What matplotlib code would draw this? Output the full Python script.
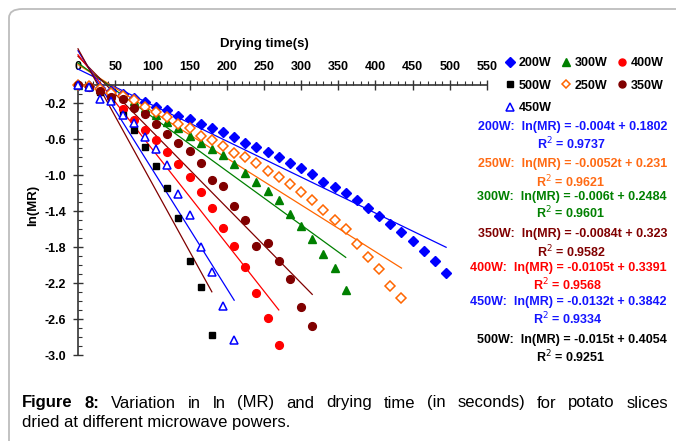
import numpy as np
import matplotlib
matplotlib.use("Agg")
import matplotlib.pyplot as plt
from matplotlib.patches import FancyBboxPatch

plt.rcParams['font.family'] = ['Liberation Sans', 'DejaVu Sans']

# ---------------- data ----------------
powers = ["200W", "300W", "400W", "500W", "250W", "350W", "450W"]
step = 15
ln200 = [0, -0.01, -0.03, -0.06, -0.10, -0.14, -0.19, -0.24, -0.28, -0.34, -0.37, -0.43,
         -0.48, -0.52, -0.57, -0.64, -0.69, -0.74, -0.80, -0.86, -0.92, -0.99, -1.07, -1.13,
         -1.20, -1.28, -1.36, -1.45, -1.54, -1.63, -1.73, -1.84, -1.95, -2.08]
ln250 = [0, -0.01, -0.04, -0.09, -0.12, -0.16, -0.24, -0.30, -0.35, -0.43, -0.48, -0.56,
         -0.61, -0.67, -0.75, -0.80, -0.86, -0.95, -1.02, -1.10, -1.19, -1.28, -1.39, -1.50,
         -1.60, -1.76, -1.91, -2.04, -2.23, -2.36]
ln300 = [0, -0.01, -0.04, -0.07, -0.11, -0.18, -0.25, -0.33, -0.41, -0.48, -0.56, -0.64,
         -0.71, -0.78, -0.87, -0.97, -1.08, -1.18, -1.27, -1.43, -1.56, -1.71, -1.87, -2.03,
         -2.27]
ln350 = [0, -0.02, -0.06, -0.13, -0.15, -0.25, -0.32, -0.43, -0.54, -0.64, -0.73, -0.86,
         -1.05, -1.12, -1.34, -1.50, -1.79, -1.75, -1.95, -2.15, -2.46, -2.67]
ln400 = [0, -0.02, -0.06, -0.13, -0.26, -0.39, -0.50, -0.61, -0.74, -0.87, -1.02, -1.19,
         -1.36, -1.59, -1.79, -2.02, -2.31, -2.59, -2.89]
ln450 = [0, -0.02, -0.15, -0.17, -0.33, -0.42, -0.57, -0.71, -0.89, -1.21, -1.44, -1.80,
         -2.07, -2.45, -2.83]
ln500 = [0, -0.02, -0.08, -0.16, -0.33, -0.50, -0.69, -0.90, -1.14, -1.47, -1.95, -2.24,
         -2.77]

series = {"200W": ln200, "250W": ln250, "300W": ln300, "350W": ln350,
          "400W": ln400, "450W": ln450, "500W": ln500}

slopes = {"200W": -0.004, "250W": -0.0052, "300W": -0.006, "350W": -0.0084,
          "400W": -0.0105, "450W": -0.0132, "500W": -0.015}
intercepts = {"200W": 0.1802, "250W": 0.231, "300W": 0.2484, "350W": 0.323,
              "400W": 0.3391, "450W": 0.3842, "500W": 0.4054}
r2 = {"200W": "0.9737", "250W": "0.9621", "300W": "0.9601", "350W": "0.9582",
      "400W": "0.9568", "450W": "0.9334", "500W": "0.9251"}
eq_text = {"200W": "200W:  ln(MR) = -0.004t + 0.1802",
           "250W": "250W:  ln(MR) = -0.0052t + 0.231",
           "300W": "300W:  ln(MR) = -0.006t + 0.2484",
           "350W": "350W:  ln(MR) = -0.0084t + 0.323",
           "400W": "400W:  ln(MR) = -0.0105t + 0.3391",
           "450W": "450W:  ln(MR) = -0.0132t + 0.3842",
           "500W": "500W:  ln(MR) = -0.015t + 0.4054"}

caption_bold = "Figure 8:"
caption_line1 = "Variation in ln (MR) and drying time (in seconds) for potato slices"
caption_line2 = "dried at different microwave powers."

# ---------------- styles ----------------
BLUE = '#0000FF'
ORANGE = '#FF6600'
GREEN = '#008000'
MAROON = '#800000'
RED = '#FF0000'
BLACK = '#000000'
marker_style = {
    "200W": dict(marker='D', color=BLUE, mfc=BLUE, mec=BLUE, ms=5.2),
    "300W": dict(marker='^', color=GREEN, mfc=GREEN, mec=GREEN, ms=6.3),
    "400W": dict(marker='o', color=RED, mfc=RED, mec=RED, ms=5.6),
    "500W": dict(marker='s', color=BLACK, mfc=BLACK, mec=BLACK, ms=5.0),
    "250W": dict(marker='D', color=ORANGE, mfc='white', mec=ORANGE, ms=4.6, mew=1.1),
    "350W": dict(marker='o', color=MAROON, mfc=MAROON, mec=MAROON, ms=5.6),
    "450W": dict(marker='^', color=BLUE, mfc='white', mec=BLUE, ms=6.3, mew=1.1),
}
line_color = {"200W": BLUE, "250W": ORANGE, "300W": GREEN, "350W": MAROON,
              "400W": RED, "450W": BLUE, "500W": MAROON}
text_color = {"200W": '#1414FF', "250W": '#FF6A13', "300W": GREEN, "350W": MAROON,
              "400W": RED, "450W": '#1414FF', "500W": BLACK}

W, H = 676, 441
fig = plt.figure(figsize=(W / 100, H / 100), dpi=100)

# border box (rounded top-left corner)
box = FancyBboxPatch((9 / W, -0.2), 1.2, 1 - 9 / H + 0.2,
                     boxstyle="round,pad=0,rounding_size=0.02",
                     transform=fig.transFigure, fill=False,
                     edgecolor='#BDBDBD', linewidth=1.3)
fig.patches.append(box)

ax = fig.add_axes([78 / W, 1 - 355.3 / H, (487 - 78) / W, (355.3 - 85.3) / H])
ax.set_xlim(0, 550)
ax.set_ylim(-3.0, 0)

# trend lines
for p in ["200W", "250W", "300W", "350W", "400W", "450W", "500W"]:
    tmax = (len(series[p]) - 1) * step
    tt = np.array([0, tmax])
    ax.plot(tt, slopes[p] * tt + intercepts[p], color=line_color[p], lw=0.9,
            clip_on=False, zorder=2)

handles = {}
for p in powers:
    y = np.array(series[p])
    t = np.arange(len(y)) * step
    st = marker_style[p]
    h, = ax.plot(t, y, linestyle='none', clip_on=False, zorder=3, label=p, **st)
    handles[p] = h

# spines & ticks
for s in ['right', 'bottom']:
    ax.spines[s].set_visible(False)
for s in ['top', 'left']:
    ax.spines[s].set_color('#333333')
    ax.spines[s].set_linewidth(1.2)
ax.xaxis.set_ticks_position('top')
ax.xaxis.set_label_position('top')
ax.set_xticks(np.arange(0, 551, 50))
ax.set_xticks(np.arange(0, 551, 10), minor=True)
yt = [-0.2, -0.6, -1.0, -1.4, -1.8, -2.2, -2.6, -3.0]
ax.set_yticks(yt)
ax.set_yticklabels([f"{v:.1f}" for v in yt])
ax.set_yticks(np.round(np.arange(-2.9, -0.05, 0.1), 2), minor=True)
ax.tick_params(axis='x', which='major', direction='inout', length=7, width=1.0,
               color='#333333', labelsize=9, pad=5)
ax.tick_params(axis='x', which='minor', direction='out', length=3, width=0.8,
               color='#333333')
ax.tick_params(axis='y', which='major', direction='inout', length=7, width=1.0,
               color='#333333', labelsize=9, pad=5)
ax.tick_params(axis='y', which='minor', direction='in', length=3, width=0.8,
               color='#333333')
for lab in ax.get_xticklabels() + ax.get_yticklabels():
    lab.set_fontweight('bold')

fig.text(264 / W, 1 - 44 / H, "Drying time(s)", ha='center', va='center',
         fontsize=9.5, fontweight='bold')
fig.text(33 / W, 1 - 205 / H, "ln(MR)", ha='center', va='center', rotation=90,
         fontsize=9.5, fontweight='bold')

# legend (column-first ordering)
order = ["200W", "500W", "450W", "300W", "250W", "400W", "350W"]
leg = fig.legend([handles[p] for p in order], order, loc='upper left',
                 bbox_to_anchor=(505 / W, 1 - 57 / H), ncol=3, frameon=False,
                 prop=dict(size=9, weight='bold'), handlelength=0.8,
                 handletextpad=0.3, columnspacing=0.75, labelspacing=0.85,
                 borderpad=0, borderaxespad=0, markerscale=0.9)

# equations
eq_y = {"200W": 127, "250W": 163.7, "300W": 196.7, "350W": 234.3,
        "400W": 268.3, "450W": 301.7, "500W": 340}
r2_y = {"200W": 144.3, "250W": 181.7, "300W": 213.3, "350W": 252.3,
        "400W": 285.3, "450W": 319, "500W": 356.7}
r2_x = {"200W": 571, "250W": 571, "300W": 571, "350W": 571.7,
        "400W": 568, "450W": 568, "500W": 571}
for p in ["200W", "250W", "300W", "350W", "400W", "450W", "500W"]:
    fig.text(667 / W, 1 - eq_y[p] / H, eq_text[p], ha='right', va='center',
             fontsize=9, fontweight='bold', color=text_color[p])
    fig.text(r2_x[p] / W, 1 - r2_y[p] / H, "R$^{2}$ = " + r2[p], ha='center',
             va='center', fontsize=9, fontweight='bold', color=text_color[p])

# caption (first line justified between x=22 and x=668)
cap_fs = 12
fig.canvas.draw()
r = fig.canvas.get_renderer()
words = [(w, 'bold') for w in caption_bold.split()] + \
        [(w, 'normal') for w in caption_line1.split()]
y1 = 1 - 403 / H
tmp = []
total = 0
for w, wt in words:
    t = fig.text(0, y1, w, ha='left', va='center', fontsize=cap_fs, fontweight=wt)
    wd = t.get_window_extent(renderer=r).width
    tmp.append((t, wd))
    total += wd
gap = (668 - 22 - total) / (len(words) - 1)
x = 22.0
for t, wd in tmp:
    t.set_x(x / W)
    x += wd + gap
fig.text(22 / W, 1 - 423 / H, caption_line2, ha='left', va='center',
         fontsize=cap_fs)

fig.savefig("out.png", dpi=100)
